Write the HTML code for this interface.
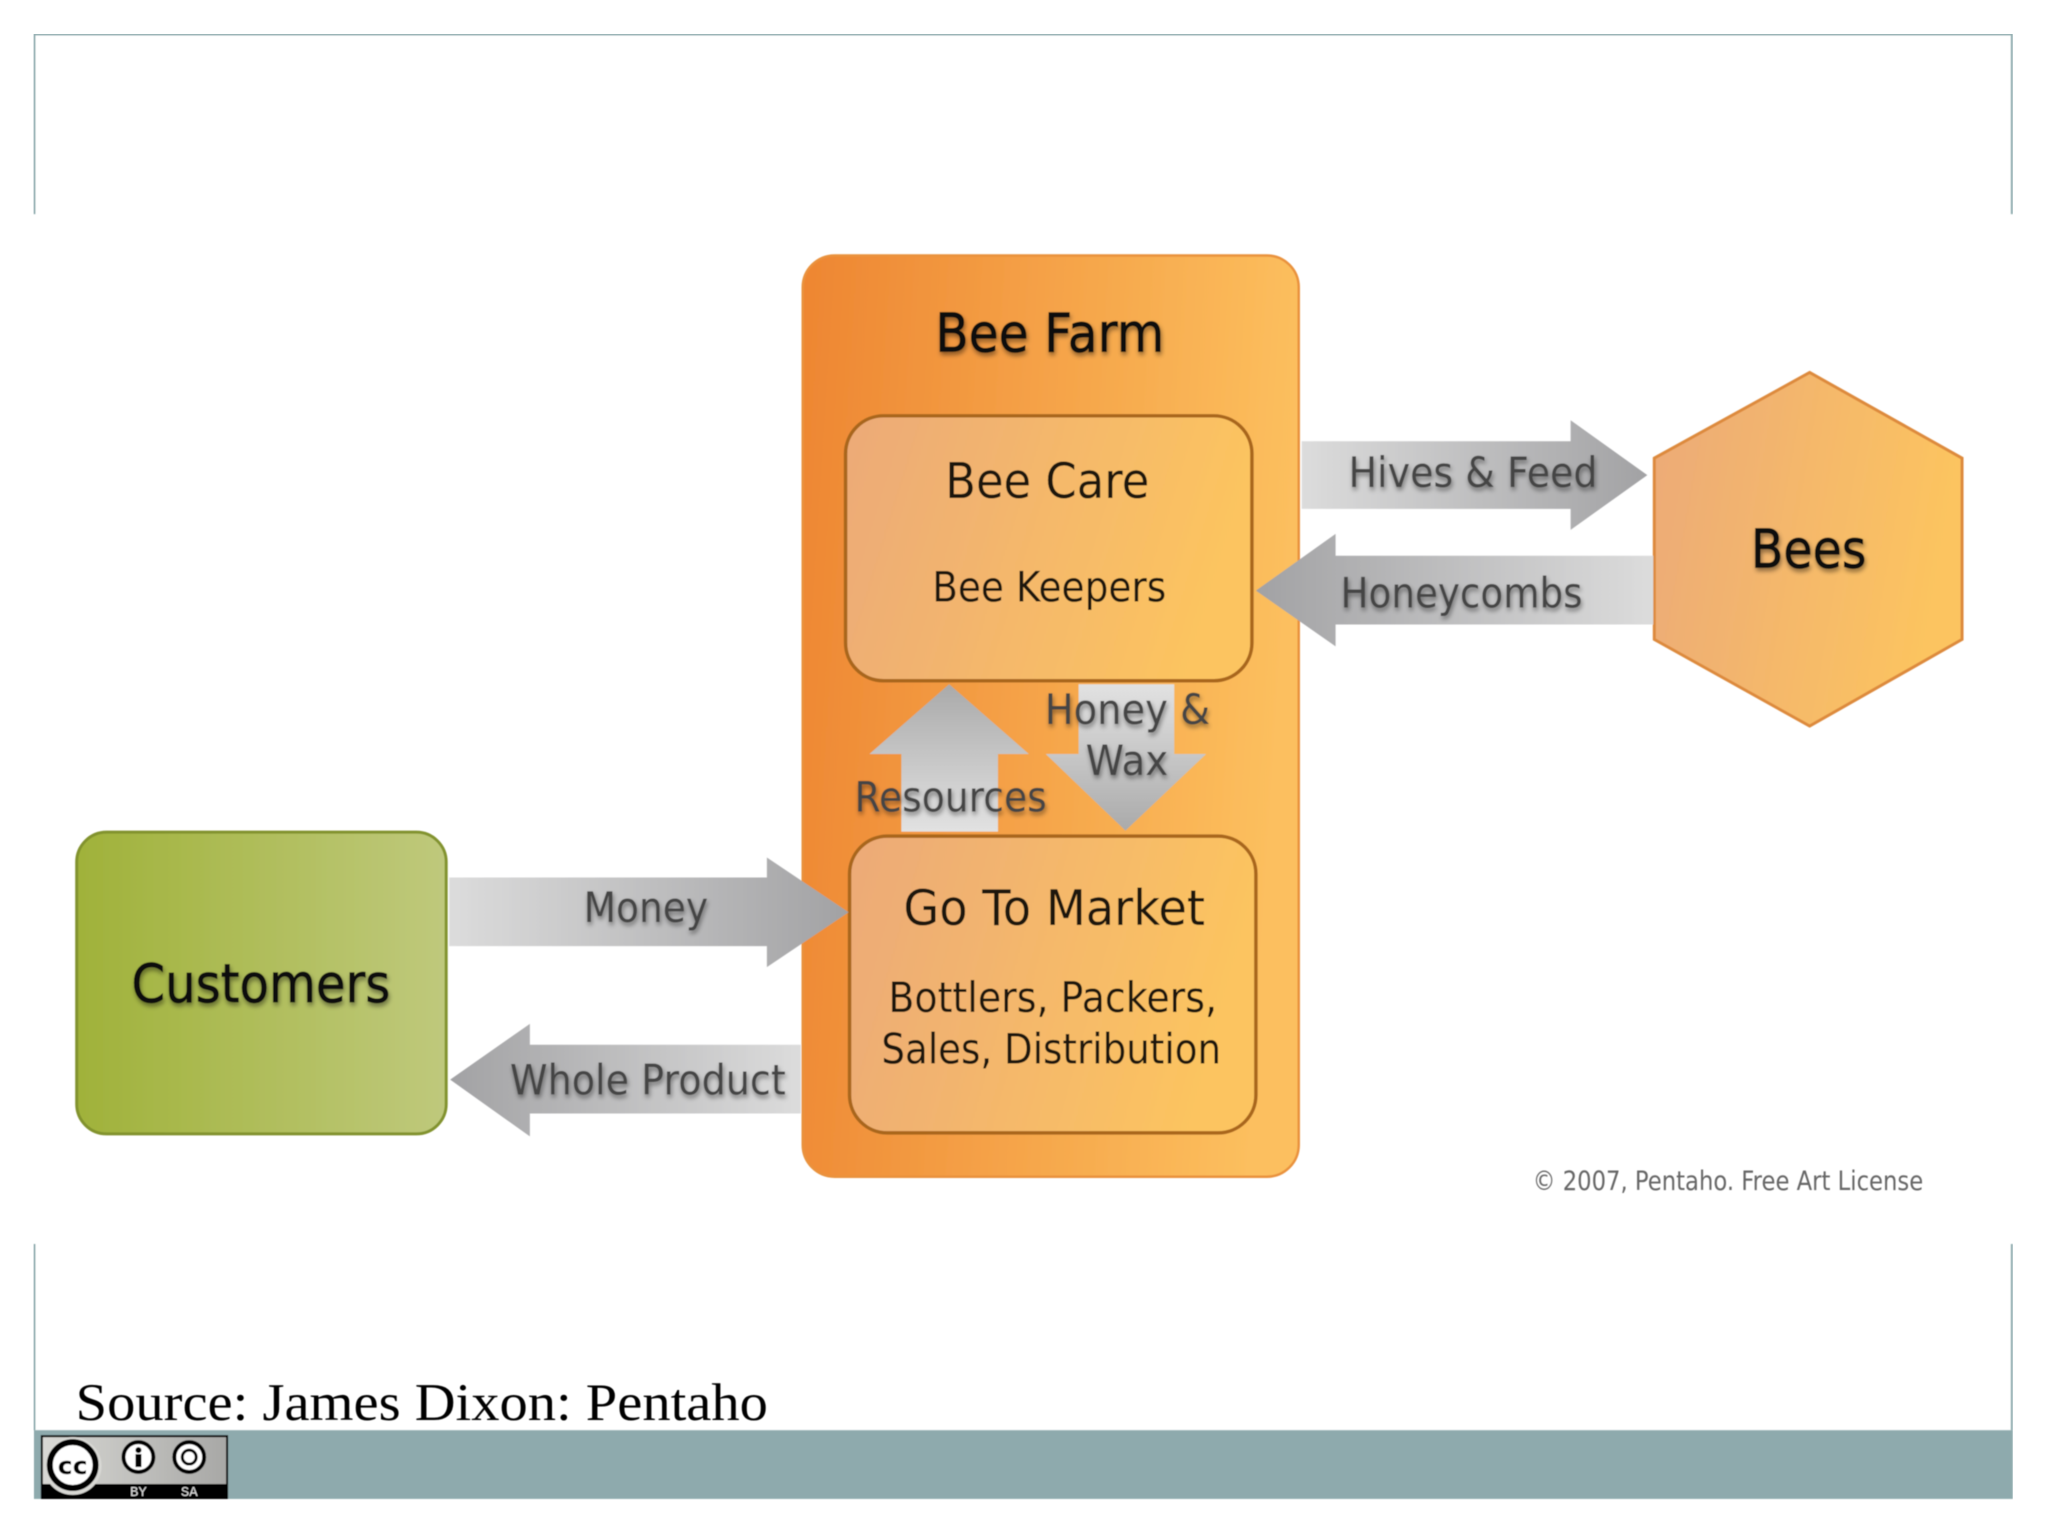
<!DOCTYPE html>
<html><head><meta charset="utf-8"><style>html,body{margin:0;padding:0;background:#fff}svg{display:block}</style></head>
<body>
<svg width="2048" height="1536" viewBox="0 0 2048 1536" xmlns="http://www.w3.org/2000/svg" font-family="'DejaVu Sans',sans-serif">
<defs>
<linearGradient id="farm" x1="0" y1="0" x2="1" y2="0.12"><stop offset="0" stop-color="#ee8632"/><stop offset="1" stop-color="#fcbf5e"/></linearGradient>
<linearGradient id="inner" x1="0" y1="0" x2="1" y2="0.2"><stop offset="0" stop-color="#ecaa78"/><stop offset="1" stop-color="#fcc460"/></linearGradient>
<linearGradient id="green" x1="0" y1="0" x2="1" y2="0"><stop offset="0" stop-color="#a0b23a"/><stop offset="1" stop-color="#bfc97c"/></linearGradient>
<linearGradient id="ar" x1="0" y1="0" x2="1" y2="0"><stop offset="0" stop-color="#dcdcdc"/><stop offset="1" stop-color="#a2a2a4"/></linearGradient>
<linearGradient id="al" x1="1" y1="0" x2="0" y2="0"><stop offset="0" stop-color="#dcdcdc"/><stop offset="1" stop-color="#a2a2a4"/></linearGradient>
<linearGradient id="au" x1="0" y1="1" x2="0" y2="0"><stop offset="0" stop-color="#e2e2e2"/><stop offset="1" stop-color="#aaaaaa"/></linearGradient>
<linearGradient id="ad" x1="0" y1="0" x2="0" y2="1"><stop offset="0" stop-color="#e2e2e2"/><stop offset="1" stop-color="#aaaaaa"/></linearGradient>
<linearGradient id="cc" x1="0" y1="0" x2="1" y2="0"><stop offset="0" stop-color="#d8d8d4"/><stop offset="1" stop-color="#a8a8a6"/></linearGradient>
<filter id="sh" x="-10%" y="-30%" width="120%" height="170%"><feDropShadow dx="1" dy="3" stdDeviation="2.5" flood-color="#000" flood-opacity="0.45"/></filter>
<filter id="soft" x="0" y="0" width="100%" height="100%"><feGaussianBlur stdDeviation="0.6"/></filter>
</defs>

<rect width="2048" height="1536" fill="#fff"/>
<g transform="scale(0.99596)" filter="url(#soft)">

<!-- slide frame -->
<path d="M34.5 215V34.5H2020V215" fill="none" stroke="#8eaaad" stroke-width="2"/>
<path d="M34.5 1249V1436M2020 1249V1436" fill="none" stroke="#8eaaad" stroke-width="2"/>
<rect x="34" y="1436" width="1987" height="69" fill="#8eaaad"/>

<text x="76" y="1426" font-family="'Liberation Serif',serif" font-size="53" fill="#000" textLength="695" lengthAdjust="spacingAndGlyphs">Source: James Dixon: Pentaho</text>

<!-- CC badge -->
<rect x="41" y="1441" width="188" height="64" fill="#000"/>
<rect x="43" y="1443" width="184" height="47" fill="url(#cc)"/>
<circle cx="73" cy="1472" r="29" fill="#d8d8d4"/>
<circle cx="73" cy="1471" r="23" fill="#fff" stroke="#000" stroke-width="6"/>
<text x="73" y="1480" text-anchor="middle" font-size="24" font-weight="bold" fill="#000" textLength="30" lengthAdjust="spacingAndGlyphs">cc</text>
<circle cx="139" cy="1463" r="15" fill="#fff" stroke="#000" stroke-width="4"/>
<circle cx="139" cy="1456" r="3" fill="#000"/><rect x="136" y="1460" width="6" height="13" fill="#000"/>
<circle cx="190" cy="1463" r="15" fill="#fff" stroke="#000" stroke-width="4"/>
<circle cx="190" cy="1463" r="7" fill="none" stroke="#000" stroke-width="3"/>
<text x="139" y="1502" text-anchor="middle" font-family="'Liberation Mono',monospace" font-size="14" fill="#ddd">BY</text>
<text x="190" y="1502" text-anchor="middle" font-family="'Liberation Mono',monospace" font-size="14" fill="#ddd">SA</text>

<!-- Bee Farm -->
<rect x="806" y="256.5" width="498" height="925" rx="32" fill="url(#farm)" stroke="#e9923e" stroke-width="2.5"/>
<rect x="849" y="417.5" width="408" height="266" rx="38" fill="url(#inner)" stroke="#a9661b" stroke-width="3.5"/>
<rect x="853" y="839.5" width="408" height="298" rx="38" fill="url(#inner)" stroke="#a9661b" stroke-width="3.5"/>

<!-- Customers -->
<rect x="77" y="835.5" width="371" height="303" rx="30" fill="url(#green)" stroke="#82932f" stroke-width="3"/>

<!-- Bees -->
<polygon points="1817,374 1970,460 1970,642 1817,729 1661,642 1661,460" fill="url(#inner)" stroke="#dd8a3c" stroke-width="3"/>

<!-- Arrows -->
<polygon points="1307,443 1577,443 1577,422 1654,477 1577,532 1577,511 1307,511" fill="url(#ar)"/>
<polygon points="1660,558 1341,558 1341,536 1261,593 1341,649 1341,627 1660,627" fill="url(#al)"/>
<polygon points="451,881 770,881 770,861 852,916 770,971 770,950 451,950" fill="url(#ar)"/>
<polygon points="804,1049 532,1049 532,1028 452,1084 532,1141 532,1118 804,1118" fill="url(#al)"/>
<polygon points="905,835 905,757 873,757 953,687 1033,757 1002,757 1002,835" fill="url(#au)"/>
<polygon points="1083,687 1179,687 1179,757 1211,757 1130,834 1050,757 1083,757" fill="url(#ad)"/>

<!-- Labels -->
<g fill="#111" filter="url(#sh)" stroke="#111" stroke-width="0.7">
<text x="939" y="353" font-size="54" textLength="230" lengthAdjust="spacingAndGlyphs">Bee Farm</text>
<text x="1758" y="570" font-size="54" textLength="116" lengthAdjust="spacingAndGlyphs">Bees</text>
<text x="132" y="1006" font-size="54" textLength="260" lengthAdjust="spacingAndGlyphs">Customers</text>
</g>
<g fill="#1a1208">
<text x="949" y="500" font-size="49" textLength="205" lengthAdjust="spacingAndGlyphs">Bee Care</text>
<text x="936" y="604" font-size="42" textLength="235" lengthAdjust="spacingAndGlyphs">Bee Keepers</text>
<text x="907" y="929" font-size="49" textLength="303" lengthAdjust="spacingAndGlyphs">Go To Market</text>
<text x="892" y="1016" font-size="42" textLength="330" lengthAdjust="spacingAndGlyphs">Bottlers, Packers,</text>
<text x="885" y="1068" font-size="42" textLength="341" lengthAdjust="spacingAndGlyphs">Sales, Distribution</text>
</g>
<g fill="#444" filter="url(#sh)" font-size="42">
<text x="1354" y="489" textLength="250" lengthAdjust="spacingAndGlyphs">Hives &amp; Feed</text>
<text x="1346" y="610" textLength="243" lengthAdjust="spacingAndGlyphs">Honeycombs</text>
<text x="586" y="926" textLength="125" lengthAdjust="spacingAndGlyphs">Money</text>
<text x="512" y="1099" textLength="277" lengthAdjust="spacingAndGlyphs">Whole Product</text>
<text x="858" y="815" textLength="193" lengthAdjust="spacingAndGlyphs">Resources</text>
<text x="1049" y="727" textLength="166" lengthAdjust="spacingAndGlyphs">Honey &amp;</text>
<text x="1090" y="778" textLength="83" lengthAdjust="spacingAndGlyphs">Wax</text>
</g>
<text x="1539" y="1195" font-size="27" fill="#666" textLength="392" lengthAdjust="spacingAndGlyphs">© 2007, Pentaho. Free Art License</text>
</g>
</svg>
</body></html>
